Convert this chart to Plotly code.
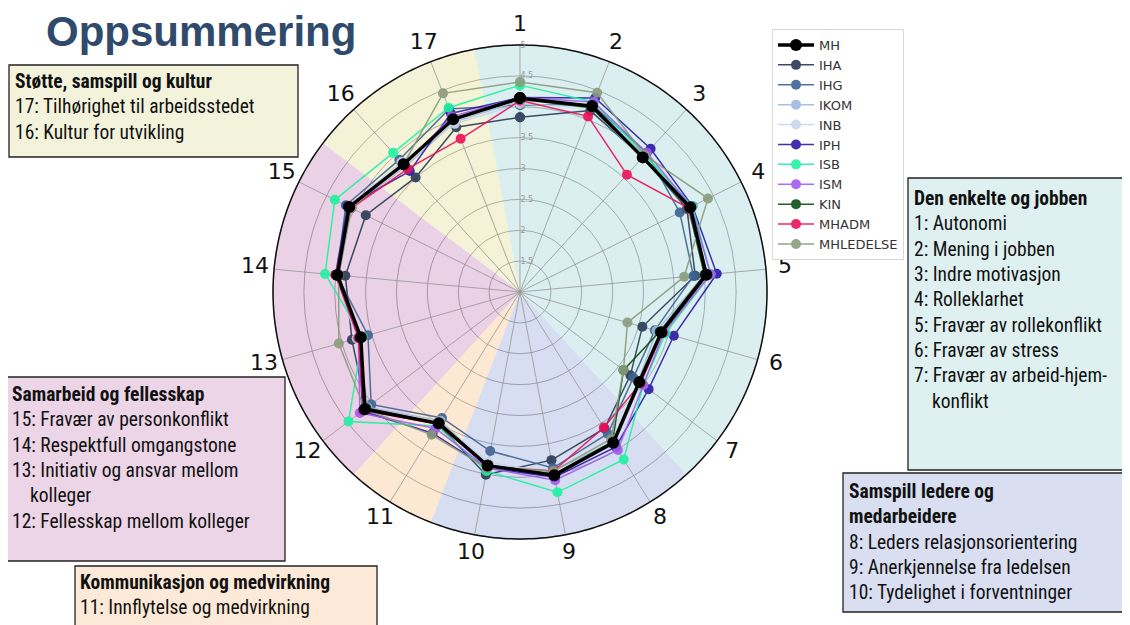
import plotly.graph_objects as go

# page body has an 8px margin; the figure fills the rest of the 1130x625 window
OFF = 8
W, H = 1130 - OFF, 625 - OFF

# ---------------- data ----------------
categories = [str(i) for i in range(1, 18)]
series_names = ["MH", "IHA", "IHG", "IKOM", "INB", "IPH", "ISB", "ISM", "KIN", "MHADM", "MHLEDELSE"]

MH        = [4.14, 4.23, 3.95, 4.08, 4.03, 3.38, 3.42, 3.87, 4.02, 3.86, 3.50, 4.15, 3.68, 3.97, 4.09, 3.80, 4.00]
IHA       = [3.83, 4.15, 3.95, 4.02, 3.85, 3.06, 3.24, 3.60, 3.77, 4.01, 3.52, 4.12, 3.83, 3.84, 3.79, 3.51, 3.86]
IHG       = [4.03, 4.25, 4.05, 3.89, 3.82, 3.27, 3.30, 3.70, 3.90, 3.62, 3.40, 4.02, 3.56, 3.98, 4.15, 3.90, 4.18]
IKOM      = [4.10, 4.25, 3.98, 4.05, 4.00, 3.30, 3.40, 3.85, 3.95, 3.85, 3.45, 4.10, 3.70, 3.95, 4.05, 3.75, 3.95]
INB       = [4.05, 4.20, 3.93, 4.10, 4.05, 3.40, 3.45, 3.90, 4.00, 3.80, 3.50, 4.18, 3.75, 4.00, 4.10, 3.85, 3.92]
IPH       = [4.15, 4.37, 4.14, 4.12, 4.20, 3.59, 3.61, 3.95, 4.05, 3.90, 3.69, 4.20, 3.70, 4.00, 4.12, 3.65, 4.10]
ISB       = [4.35, 4.30, 4.00, 4.12, 4.10, 3.45, 3.50, 4.19, 4.30, 3.95, 3.55, 4.48, 3.65, 4.17, 4.35, 4.05, 4.20]
ISM       = [4.15, 4.30, 4.05, 4.10, 4.10, 3.42, 3.50, 4.01, 4.10, 3.90, 3.60, 4.25, 3.72, 3.98, 4.10, 3.78, 4.05]
KIN       = [4.12, 4.20, 3.95, 4.05, 4.00, 3.35, 3.10, 3.85, 4.00, 3.85, 3.50, 4.12, 3.70, 3.95, 4.08, 3.80, 4.00]
MHADM     = [4.10, 4.05, 3.57, 4.05, 4.05, 3.40, 3.45, 3.58, 3.95, 3.88, 3.52, 4.18, 3.72, 4.00, 4.05, 3.70, 3.66]
MHLEDELSE = [4.40, 4.46, 4.00, 4.40, 3.67, 2.81, 3.10, 3.80, 3.95, 3.90, 3.72, 4.15, 4.05, 3.95, 4.05, 3.80, 4.45]

series_values = [MH, IHA, IHG, IKOM, INB, IPH, ISB, ISM, KIN, MHADM, MHLEDELSE]

radial_ticks = [1.5, 2, 2.5, 3, 3.5, 4, 4.5, 5]
radial_ticktext = ["1.5", "2", "2.5", "3", "3.5", "4", "4.5", "5"]
r_min, r_max = 1, 5

# category groups (first, last category number)
group_ranges = [(1, 7), (8, 10), (11, 11), (12, 15), (16, 17)]

box_titles = ["Den enkelte og jobben", "Samspill ledere og<br>medarbeidere",
              "Kommunikasjon og medvirkning", "Samarbeid og fellesskap",
              "Støtte, samspill og kultur"]
box_lines = [
    ["1: Autonomi", "2: Mening i jobben", "3: Indre motivasjon", "4: Rolleklarhet",
     "5: Fravær av rollekonflikt", "6: Fravær av stress", "7: Fravær av arbeid-hjem-",
     "\u00a0\u00a0\u00a0\u00a0konflikt"],
    ["8: Leders relasjonsorientering", "9: Anerkjennelse fra ledelsen", "10: Tydelighet i forventninger"],
    ["11: Innflytelse og medvirkning"],
    ["15: Fravær av personkonflikt", "14: Respektfull omgangstone", "13: Initiativ og ansvar mellom",
     "\u00a0\u00a0\u00a0\u00a0kolleger", "12: Fellesskap mellom kolleger"],
    ["17: Tilhørighet til arbeidsstedet", "16: Kultur for utvikling"],
]

# ---------------- styles ----------------
series_colors = {
    "MH": "#000000", "IHA": "#2a3a56", "IHG": "#3e6392", "IKOM": "#9fb9de", "INB": "#c8d5ea",
    "IPH": "#2e1aa6", "ISB": "#1ff2a2", "ISM": "#a35cf0", "KIN": "#0b4d12",
    "MHADM": "#ec1058", "MHLEDELSE": "#8b9b7c",
}
sector_colors = ["rgba(125,196,202,0.28)", "rgba(110,135,205,0.28)", "rgba(244,180,110,0.30)",
                 "rgba(180,90,160,0.28)", "rgba(215,210,110,0.28)"]
box_fill = ["#dff0f0", "#d9dff1", "#fde9d7", "#ecd5e7", "#f3f3dc"]
# box rectangles in window pixels (x0, y0, x1, y1) and text anchor (x, y_top)
box_rects = [(908, 178, 1134, 470), (843, 473, 1134, 612), (75, 566, 377, 630),
             (7, 377, 285, 561), (9, 65, 298, 157)]
box_text_pos = [(912, 185), (847, 478), (78, 569), (10, 381), (13, 68)]
label_r = 5.31          # radius (data units) where category numbers sit
center_px = (520, 292)  # polar centre in window pixels
ring_px = 247           # pixel radius of r = 5

N = len(categories)
step = 360.0 / N
thetas = [i * step for i in range(N)]

def px(x):
    return (x - OFF) / W

def py(y):
    return 1 - (y - OFF) / H

outer_px = ring_px * (label_r - r_min) / (r_max - r_min)
dom_x = [px(center_px[0] - outer_px), px(center_px[0] + outer_px)]
dom_y = [py(center_px[1] + outer_px), py(center_px[1] - outer_px)]

fig = go.Figure()

# background sectors
for (a, b), col in zip(group_ranges, sector_colors):
    start = (a - 1) * step - step / 2
    end = (b - 1) * step + step / 2
    fig.add_trace(go.Barpolar(
        r=[r_max - r_min], base=[r_min], theta=[(start + end) / 2], width=[end - start],
        marker=dict(color=col, line=dict(width=0)), showlegend=False, hoverinfo="skip",
    ))

# spokes (angular grid) up to r = 5
spoke_r, spoke_t = [], []
for t in thetas:
    spoke_r += [r_min, r_max, None]
    spoke_t += [t, t, None]
fig.add_trace(go.Scatterpolar(
    r=spoke_r, theta=spoke_t, mode="lines", connectgaps=False,
    line=dict(color="rgba(150,150,150,0.8)", width=1),
    showlegend=False, hoverinfo="skip",
))

# outer ring at r = 5
ring_t = list(range(0, 361))
fig.add_trace(go.Scatterpolar(
    r=[r_max] * len(ring_t), theta=ring_t, mode="lines",
    line=dict(color="#111111", width=1.5), showlegend=False, hoverinfo="skip",
))

# series (MH drawn last, on top)
order = list(range(1, len(series_names))) + [0]
for idx in order:
    name = series_names[idx]
    vals = series_values[idx]
    is_main = name == "MH"
    fig.add_trace(go.Scatterpolar(
        r=vals + [vals[0]], theta=thetas + [thetas[0]], name=name,
        mode="lines+markers",
        line=dict(color=series_colors[name], width=3.4 if is_main else 1.5),
        marker=dict(color=series_colors[name], size=12 if is_main else 10),
        opacity=1 if is_main else 0.9,
        legendrank=idx + 1,
    ))

# category labels, centred just outside the outer ring
fig.add_trace(go.Scatterpolar(
    r=[label_r] * N, theta=thetas, text=categories, mode="text",
    textfont=dict(size=22, family="DejaVu Sans", color="#111111"),
    cliponaxis=False, showlegend=False, hoverinfo="skip",
))

fig.update_layout(
    width=W, height=H,
    margin=dict(l=0, r=0, t=0, b=0),
    paper_bgcolor="white",
    font=dict(family="DejaVu Sans", color="#222222"),
    polar=dict(
        domain=dict(x=dom_x, y=dom_y),
        bgcolor="rgba(0,0,0,0)",
        barmode="overlay",
        radialaxis=dict(
            range=[r_min, label_r], tickvals=radial_ticks, ticktext=radial_ticktext,
            angle=90, tickangle=90, showline=False, ticks="",
            tickfont=dict(size=8, color="#999999"),
            gridcolor="#a8a8a8", gridwidth=1,
        ),
        angularaxis=dict(
            tickmode="array", tickvals=thetas, ticktext=categories,
            direction="clockwise", rotation=90, showticklabels=False,
            showline=False, ticks="", showgrid=False,
        ),
    ),
    legend=dict(
        x=px(772), y=py(29), xanchor="left", yanchor="top",
        bgcolor="white", bordercolor="#d8d8d8", borderwidth=1,
        font=dict(size=13, family="DejaVu Sans", color="#333333"),
        tracegroupgap=0, itemwidth=36,
    ),
)

# title
fig.add_annotation(
    text="<b>Oppsummering</b>", x=px(44), y=py(32), xref="paper", yref="paper",
    xanchor="left", yanchor="middle", showarrow=False,
    font=dict(size=42, family="Liberation Sans, Arial", color="#2f4a6c"),
)

# info boxes
narrow = "Liberation Sans Narrow, Arial Narrow, Roboto Condensed, Liberation Sans"
for rect, fill, (tx, ty), title, lines in zip(box_rects, box_fill, box_text_pos, box_titles, box_lines):
    x0, y0, x1, y1 = rect
    fig.add_shape(type="rect", xref="paper", yref="paper",
                  x0=px(x0), x1=px(x1), y0=py(y0), y1=py(y1),
                  fillcolor=fill, line=dict(color="#222222", width=1.3), layer="below")
    text = "<b>" + title.replace("<br>", "</b><br><b>") + "</b><br>" + "<br>".join(lines)
    fig.add_annotation(
        text=text, x=px(tx), y=py(ty), xref="paper", yref="paper",
        xanchor="left", yanchor="top", align="left", showarrow=False,
        font=dict(size=19.5, family=narrow, color="#111111"),
    )

fig.write_html("out.html")
